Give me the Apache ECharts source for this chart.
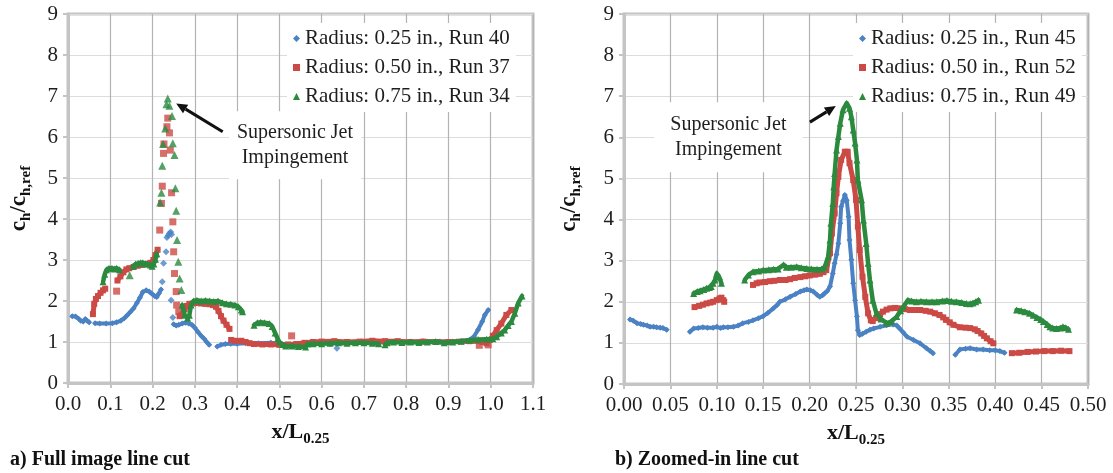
<!DOCTYPE html>
<html>
<head>
<meta charset="utf-8">
<script src="https://cdn.jsdelivr.net/npm/echarts@6/dist/echarts.min.js"></script>
<style>
  html, body { margin: 0; padding: 0; background: #fff; }
  #chart { width: 1113px; height: 473px; }
</style>
</head>
<body>
<div id="chart"></div>
<script>
// ---- axis ticks ----
const yTicks = [0, 1, 2, 3, 4, 5, 6, 7, 8, 9];
const xTicksA = [0.0, 0.1, 0.2, 0.3, 0.4, 0.5, 0.6, 0.7, 0.8, 0.9, 1.0, 1.1];
const xTicksB = [0.00, 0.05, 0.10, 0.15, 0.20, 0.25, 0.30, 0.35, 0.40, 0.45, 0.50];

// ---- series names ----
const namesA = ['Radius: 0.25 in., Run 40', 'Radius: 0.50 in., Run 37', 'Radius: 0.75 in., Run 34'];
const namesB = ['Radius: 0.25 in., Run 45', 'Radius: 0.50 in., Run 52', 'Radius: 0.75 in., Run 49'];
const captions = ['a) Full image line cut', 'b) Zoomed-in line cut'];
const annotationText = 'Supersonic Jet\nImpingement';

// ---- a) full image line cut: continuous stretches (one sub-array per stretch) ----
const aBlueTrace = [
  [[0.010,1.63],[0.018,1.62],[0.025,1.57],[0.030,1.52],[0.036,1.50],[0.041,1.56],[0.045,1.52],[0.050,1.48]],
  [[0.064,1.46],[0.075,1.45],[0.090,1.45],[0.105,1.46],[0.115,1.48],[0.125,1.52],[0.133,1.58],[0.140,1.65],
   [0.148,1.74],[0.155,1.82],[0.163,1.95],[0.170,2.08],[0.177,2.22],[0.185,2.26],[0.192,2.23],[0.198,2.18],
   [0.205,2.12],[0.210,2.10],[0.215,2.18],[0.220,2.28]],
  [[0.250,1.43],[0.256,1.40],[0.262,1.42],[0.270,1.45],[0.278,1.47],[0.286,1.45],[0.293,1.42],[0.300,1.35],
   [0.307,1.25],[0.315,1.15],[0.322,1.08],[0.328,1.00],[0.334,0.93]],
  [[0.353,0.89],[0.362,0.93],[0.372,0.95],[0.385,0.96],[0.400,0.96],[0.420,0.97],[0.450,0.97],[0.480,0.98],
   [0.500,0.95],[0.520,0.93],[0.550,0.95],[0.580,0.97],[0.600,0.98],[0.620,0.96],[0.650,0.98],[0.680,0.99],
   [0.700,1.00],[0.730,0.98],[0.760,1.00],[0.800,1.00],[0.840,1.02],[0.880,1.01],[0.920,1.02],[0.950,1.05],
   [0.960,1.13],[0.970,1.30],[0.980,1.50],[0.986,1.66],[0.994,1.78]]
];
// isolated samples (jet impingement spike and stray points)
const aBluePoints = [[0.223,2.47],[0.226,2.92],[0.232,3.20],[0.234,3.55],[0.237,3.60],[0.240,3.65],[0.243,3.68],
  [0.245,3.62],[0.244,2.02],[0.248,1.60],[0.636,0.85]];

const aRedTrace = [
  [[0.059,1.68],[0.062,1.93],[0.066,2.05],[0.071,2.12],[0.077,2.20],[0.083,2.26],[0.088,2.30]],
  [[0.117,2.50],[0.124,2.60],[0.131,2.70],[0.138,2.77],[0.145,2.80],[0.155,2.83],[0.165,2.86],[0.175,2.88],
   [0.186,2.90],[0.195,2.93],[0.202,3.00],[0.207,3.12],[0.212,3.25]],
  [[0.264,1.63],[0.268,1.65],[0.272,1.68],[0.276,1.80],[0.281,1.88],[0.287,1.93],[0.295,1.94],[0.305,1.95],
   [0.315,1.94],[0.325,1.93],[0.335,1.92],[0.343,1.90],[0.350,1.86],[0.356,1.76],[0.362,1.63],[0.368,1.52],
   [0.375,1.42],[0.382,1.32]],
  [[0.386,1.05],[0.395,1.03],[0.410,1.03],[0.420,1.00],[0.430,0.97],[0.440,0.95],[0.460,0.94],[0.480,0.94],
   [0.500,0.93],[0.520,0.94],[0.540,0.95],[0.560,0.98],[0.580,1.00],[0.600,1.01],[0.630,1.02],[0.660,1.00],
   [0.690,1.01],[0.720,1.03],[0.750,1.02],[0.780,1.02],[0.810,1.00],[0.840,1.01],[0.870,1.00],[0.900,1.00],
   [0.930,1.01],[0.950,1.02],[0.965,1.03],[0.980,1.00],[0.990,0.97],[0.998,1.05],[1.005,1.15],[1.014,1.29],
   [1.025,1.45],[1.037,1.66],[1.049,1.78]]
];
const aRedPoints = [[0.115,2.24],[0.217,3.73],[0.221,4.38],[0.223,4.80],[0.226,5.60],[0.227,5.83],[0.234,6.25],
  [0.236,6.46],[0.240,6.10],[0.242,5.68],[0.245,4.64],[0.248,3.93],[0.250,3.20],[0.252,2.67],[0.256,2.23],
  [0.257,1.90],[0.262,1.74],[0.529,1.15],[0.973,0.92],[0.994,0.93]];

const aGreenTrace = [
  [[0.083,2.47],[0.087,2.65],[0.091,2.76],[0.097,2.80],[0.104,2.80],[0.110,2.78],[0.115,2.80],[0.122,2.76]],
  [[0.154,2.85],[0.160,2.90],[0.166,2.92],[0.172,2.93],[0.177,2.93],[0.183,2.91],[0.189,2.90],[0.195,2.88],
   [0.199,2.85],[0.203,2.90],[0.207,3.02],[0.210,3.15]],
  [[0.270,1.90],[0.276,1.66],[0.283,1.58],[0.287,1.65],[0.291,1.90],[0.297,2.00],[0.305,2.02],[0.315,2.00],
   [0.325,2.01],[0.335,2.00],[0.345,1.99],[0.355,2.00],[0.365,1.96],[0.375,1.93],[0.385,1.92],[0.395,1.90],
   [0.403,1.86],[0.410,1.78],[0.413,1.74]],
  [[0.440,1.41],[0.448,1.47],[0.456,1.48],[0.465,1.47],[0.476,1.45],[0.483,1.38],[0.490,1.22],[0.496,1.08],
   [0.500,1.00],[0.508,0.94],[0.515,0.90],[0.530,0.90],[0.545,0.89],[0.562,0.88],[0.566,0.95],[0.580,0.96],
   [0.600,0.96],[0.620,0.97],[0.640,0.98],[0.660,0.97],[0.680,0.98],[0.700,0.98],[0.720,0.97],[0.735,0.96]],
  [[0.750,0.93],[0.755,0.98],[0.770,1.00],[0.790,0.99],[0.810,1.00],[0.830,0.99],[0.850,1.00],[0.870,1.01],
   [0.890,0.98],[0.910,1.00],[0.930,1.02],[0.950,1.04],[0.970,1.06],[0.990,1.07],[1.005,1.08],[1.014,1.13],
   [1.025,1.22],[1.033,1.29],[1.041,1.40],[1.049,1.50],[1.057,1.70],[1.065,1.95],[1.074,2.12]]
];
const aGreenPoints = [[0.146,2.63],[0.218,4.40],[0.221,4.64],[0.223,5.30],[0.225,5.83],[0.230,6.21],[0.233,6.80],
  [0.236,6.94],[0.240,6.76],[0.246,6.51],[0.248,5.85],[0.252,5.56],[0.254,4.75],[0.256,4.20],[0.258,3.49],
  [0.261,2.96],[0.264,2.55],[0.268,2.27]];

// ---- b) zoomed-in line cut ----
const bBlueTrace = [
  [[0.0065,1.57],[0.010,1.54],[0.014,1.48],[0.018,1.46],[0.021,1.44],[0.025,1.42],[0.028,1.39],[0.032,1.39],
   [0.035,1.38],[0.039,1.37],[0.042,1.36],[0.046,1.32]],
  [[0.071,1.27],[0.075,1.35],[0.080,1.36],[0.085,1.38],[0.090,1.37],[0.096,1.37],[0.100,1.39],[0.104,1.36],
   [0.107,1.38],[0.112,1.38],[0.118,1.39],[0.123,1.42],[0.128,1.48],[0.134,1.51],[0.139,1.55],[0.145,1.60],
   [0.150,1.65],[0.155,1.73],[0.161,1.84],[0.165,1.92],[0.168,2.00],[0.174,2.06],[0.179,2.12],[0.185,2.19],
   [0.190,2.25],[0.194,2.28],[0.197,2.30],[0.201,2.28],[0.204,2.25],[0.208,2.17],[0.211,2.12],[0.214,2.16],
   [0.216,2.20],[0.219,2.26],[0.222,2.37],[0.225,2.69],[0.227,2.94],[0.229,3.15],[0.231,3.42],[0.233,3.91],
   [0.234,4.31],[0.236,4.45],[0.238,4.60],[0.240,4.47],[0.242,4.07],[0.243,3.50],[0.245,3.02],[0.247,2.45],
   [0.249,2.04],[0.251,1.64],[0.252,1.31],[0.254,1.19],[0.257,1.22],[0.261,1.27],[0.265,1.32],[0.269,1.35],
   [0.276,1.39],[0.283,1.43],[0.290,1.45],[0.294,1.42],[0.297,1.35],[0.301,1.25],[0.305,1.15],[0.312,1.07],
   [0.319,0.99],[0.326,0.87],[0.330,0.80],[0.333,0.75]],
  [[0.357,0.71],[0.362,0.84],[0.368,0.86],[0.373,0.87],[0.380,0.84],[0.387,0.84],[0.394,0.82],[0.400,0.82],
   [0.405,0.80],[0.410,0.76]]
];
const bRedTrace = [
  [[0.076,1.87],[0.081,1.90],[0.085,1.93],[0.089,1.96],[0.093,1.98],[0.096,2.00],[0.100,2.04],[0.103,2.08],
   [0.105,2.10],[0.107,2.04],[0.108,2.00]],
  [[0.139,2.41],[0.143,2.45],[0.146,2.47],[0.152,2.48],[0.157,2.50],[0.162,2.51],[0.168,2.53],[0.174,2.53],
   [0.179,2.55],[0.184,2.58],[0.190,2.60],[0.195,2.62],[0.200,2.64],[0.206,2.66],[0.211,2.68],[0.215,2.72],
   [0.218,2.77],[0.222,3.18],[0.224,3.66],[0.227,4.15],[0.229,4.64],[0.231,5.04],[0.234,5.45],[0.238,5.65],
   [0.241,5.65],[0.243,5.37],[0.247,4.96],[0.250,4.48],[0.252,3.83],[0.254,3.26],[0.257,2.61],[0.260,2.12],
   [0.263,1.72],[0.266,1.55],[0.268,1.53],[0.272,1.60],[0.276,1.70],[0.279,1.76],[0.283,1.81],[0.287,1.84],
   [0.292,1.85],[0.297,1.84],[0.303,1.82],[0.308,1.80],[0.314,1.80],[0.319,1.80],[0.325,1.78],[0.330,1.76],
   [0.335,1.72],[0.340,1.68],[0.344,1.62],[0.347,1.56],[0.351,1.50],[0.355,1.44],[0.362,1.38],[0.368,1.37],
   [0.373,1.36],[0.378,1.33],[0.381,1.29],[0.385,1.23],[0.388,1.17],[0.391,1.11],[0.395,1.04],[0.398,0.99]],
  [[0.418,0.75],[0.426,0.76],[0.435,0.78],[0.444,0.79],[0.453,0.80],[0.462,0.80],[0.471,0.81],[0.480,0.80]]
];
const bGreenTrace = [
  [[0.075,2.20],[0.079,2.25],[0.082,2.27],[0.086,2.30],[0.089,2.33],[0.092,2.35],[0.094,2.37],[0.096,2.45],
   [0.098,2.53],[0.100,2.69],[0.102,2.62],[0.103,2.61],[0.105,2.45]],
  [[0.130,2.53],[0.134,2.65],[0.139,2.73],[0.145,2.75],[0.150,2.77],[0.156,2.78],[0.161,2.79],[0.166,2.80],
   [0.172,2.90],[0.175,2.84],[0.180,2.84],[0.186,2.85],[0.191,2.83],[0.197,2.81],[0.202,2.80],[0.208,2.79],
   [0.213,2.80],[0.216,2.84],[0.218,2.95],[0.220,3.10],[0.222,3.50],[0.223,3.91],[0.225,4.39],[0.226,4.80],
   [0.227,5.12],[0.229,5.69],[0.231,6.02],[0.233,6.34],[0.236,6.67],[0.240,6.83],[0.243,6.71],[0.245,6.50],
   [0.247,6.18],[0.249,5.86],[0.251,5.45],[0.252,4.96],[0.256,4.48],[0.258,3.99],[0.261,3.42],[0.263,2.94],
   [0.265,2.53],[0.268,2.04],[0.272,1.72],[0.277,1.58],[0.283,1.48],[0.288,1.52],[0.294,1.64],[0.298,1.78],
   [0.301,1.88],[0.306,2.04],[0.310,2.02],[0.315,2.00],[0.320,2.01],[0.326,2.00],[0.332,2.00],[0.337,2.00],
   [0.343,2.02],[0.348,2.03],[0.353,2.01],[0.358,2.00],[0.364,1.98],[0.369,1.96],[0.373,1.95],[0.376,1.97],
   [0.379,2.00],[0.382,2.04]],
  [[0.423,1.80],[0.428,1.78],[0.432,1.76],[0.437,1.72],[0.441,1.67],[0.445,1.62],[0.449,1.57],[0.452,1.52],
   [0.456,1.45],[0.459,1.39],[0.462,1.36],[0.466,1.35],[0.470,1.36],[0.473,1.39],[0.476,1.37],[0.479,1.33]]
];

// ---- annotation anchors (data coordinates) ----
const arrowA = { from: [0.366, 6.13], to: [0.256, 6.82] };
const arrowB = { from: [0.2003, 6.37], to: [0.2283, 6.76] };
const labelA = [0.537, 5.80];
const labelB = [0.1125, 6.0];

// ---- styling ----
const SERIF = 'Liberation Serif';
const COLORS = ['#4a82c4', '#cc4a45', '#2b8a3e'];
const SYMBOLS = ['diamond', 'rect', 'triangle'];
const SYM_SIZE = [6, 6, 7];
const LINE_W = [4, 5, 4.5];

function traceSeries(segs, k, name, gi) {
  return segs.map(seg => ({
    type: 'line', name: name, xAxisIndex: gi, yAxisIndex: gi,
    data: seg, symbol: SYMBOLS[k], symbolSize: SYM_SIZE[k], showSymbol: true,
    lineStyle: { color: COLORS[k], width: LINE_W[k], join: 'round', cap: 'round' },
    itemStyle: { color: COLORS[k] }, z: 2 + k, animation: false, silent: true
  }));
}
function pointSeries(pts, k, name, gi) {
  return [{
    type: 'scatter', name: name, xAxisIndex: gi, yAxisIndex: gi,
    data: pts, symbol: SYMBOLS[k], symbolSize: SYM_SIZE[k] + 1,
    itemStyle: { color: COLORS[k] }, z: 2 + k, animation: false, silent: true
  }];
}

const tickLabel = { fontFamily: SERIF, fontSize: 21, color: '#1e1e1e' };
const gridBorder = '#c4c4c4';

function xAxisFor(gi, ticks, digits) {
  return {
    type: 'value', gridIndex: gi, min: ticks[0], max: ticks[ticks.length - 1],
    interval: ticks[1] - ticks[0],
    axisLine: { show: true, onZero: false, lineStyle: { color: gridBorder, width: 3 } },
    axisTick: { show: true, length: 5, lineStyle: { color: gridBorder, width: 2 } },
    axisLabel: Object.assign({ margin: 11, formatter: v => v.toFixed(digits) }, tickLabel),
    splitLine: { show: true, lineStyle: { color: '#b3b3b3', width: 1.2 } },
    name: '{b|x/L}{s|0.25}', nameLocation: 'middle', nameGap: 38,
    nameTextStyle: {
      rich: {
        b: { fontFamily: SERIF, fontSize: 22, fontWeight: 'bold', color: '#111', lineHeight: 22, verticalAlign: 'top' },
        s: { fontFamily: SERIF, fontSize: 15, fontWeight: 'bold', color: '#111', lineHeight: 15, padding: [11, 0, 0, 0], verticalAlign: 'top' }
      }
    }
  };
}
function yAxisFor(gi, gap) {
  return {
    type: 'value', gridIndex: gi, min: yTicks[0], max: yTicks[yTicks.length - 1],
    interval: yTicks[1] - yTicks[0],
    axisLine: { show: true, lineStyle: { color: gridBorder, width: 3 } },
    axisTick: { show: true, length: 5, lineStyle: { color: gridBorder, width: 2 } },
    axisLabel: Object.assign({ margin: 10 }, tickLabel),
    splitLine: { show: true, lineStyle: { color: '#dcdcdc', width: 1.2 } },
    name: '{b|c}{s|h}{b|/c}{s|h,ref}', nameLocation: 'middle', nameGap: gap, nameRotate: 90,
    nameTextStyle: {
      rich: {
        b: { fontFamily: SERIF, fontSize: 23, fontWeight: 'bold', color: '#111', lineHeight: 22, verticalAlign: 'top' },
        s: { fontFamily: SERIF, fontSize: 15, fontWeight: 'bold', color: '#111', lineHeight: 15, padding: [11, 0, 0, 0], verticalAlign: 'top' }
      }
    }
  };
}
function legendFor(names, left) {
  return {
    orient: 'vertical', left: left, top: 23, padding: [5, 6, 5, 6],
    backgroundColor: '#ffffff', itemWidth: 7, itemHeight: 7, itemGap: 8,
    selectedMode: false,
    textStyle: { fontFamily: SERIF, fontSize: 21, color: '#1e1e1e' },
    data: names.map((n, k) => ({ name: n, icon: SYMBOLS[k], itemStyle: { color: COLORS[k] } }))
  };
}

const series = [].concat(
  traceSeries(aBlueTrace, 0, namesA[0], 0), pointSeries(aBluePoints, 0, namesA[0], 0),
  traceSeries(aRedTrace, 1, namesA[1], 0), pointSeries(aRedPoints, 1, namesA[1], 0),
  traceSeries(aGreenTrace, 2, namesA[2], 0), pointSeries(aGreenPoints, 2, namesA[2], 0),
  traceSeries(bBlueTrace, 0, namesB[0], 1),
  traceSeries(bRedTrace, 1, namesB[1], 1),
  traceSeries(bGreenTrace, 2, namesB[2], 1)
);

const chart = echarts.init(document.getElementById('chart'), null, { renderer: 'canvas' });
chart.setOption({
  backgroundColor: '#ffffff',
  animation: false,
  grid: [
    { left: 68, top: 14, width: 465, height: 369, show: true, borderColor: gridBorder, borderWidth: 3, backgroundColor: 'transparent' },
    { left: 624, top: 14, width: 464, height: 370, show: true, borderColor: gridBorder, borderWidth: 3, backgroundColor: 'transparent' }
  ],
  xAxis: [xAxisFor(0, xTicksA, 1), xAxisFor(1, xTicksB, 2)],
  yAxis: [yAxisFor(0, 38), yAxisFor(1, 44)],
  legend: [legendFor(namesA, 287), legendFor(namesB, 853)],
  title: [
    { text: captions[0], left: 10, top: 450, textStyle: { fontFamily: SERIF, fontSize: 20, fontWeight: 'bold', color: '#111' }, padding: 0 },
    { text: captions[1], left: 615, top: 450, textStyle: { fontFamily: SERIF, fontSize: 20, fontWeight: 'bold', color: '#111' }, padding: 0 }
  ],
  series: series
});

// annotation boxes and arrows, placed through the grid coordinate systems
function arrowGraphics(gi, a) {
  const p0 = chart.convertToPixel({ gridIndex: gi }, a.from);
  const p1 = chart.convertToPixel({ gridIndex: gi }, a.to);
  const dx = p1[0] - p0[0], dy = p1[1] - p0[1];
  const len = Math.sqrt(dx * dx + dy * dy);
  const ux = dx / len, uy = dy / len;
  const headL = 11, headW = 5;
  const bx = p1[0] - ux * headL, by = p1[1] - uy * headL;
  return [
    { type: 'line', z: 20, shape: { x1: p0[0], y1: p0[1], x2: bx, y2: by }, style: { stroke: '#111', lineWidth: 3 } },
    { type: 'polygon', z: 20, shape: { points: [[p1[0], p1[1]], [bx - uy * headW, by + ux * headW], [bx + uy * headW, by - ux * headW]] }, style: { fill: '#111' } }
  ];
}
function labelGraphic(gi, pos, pad) {
  const p = chart.convertToPixel({ gridIndex: gi }, pos);
  return {
    type: 'text', z: 15, x: p[0], y: p[1],
    style: {
      text: annotationText, fontFamily: SERIF, fontSize: 20, fill: '#1e1e1e', lineHeight: 25,
      align: 'center', verticalAlign: 'middle', backgroundColor: '#ffffff', padding: pad
    }
  };
}
chart.setOption({
  graphic: [].concat(
    [labelGraphic(0, labelA, [9, 8, 9, 8]), labelGraphic(1, labelB, [10, 16, 10, 16])],
    arrowGraphics(0, arrowA), arrowGraphics(1, arrowB)
  )
});
</script>
</body>
</html>
